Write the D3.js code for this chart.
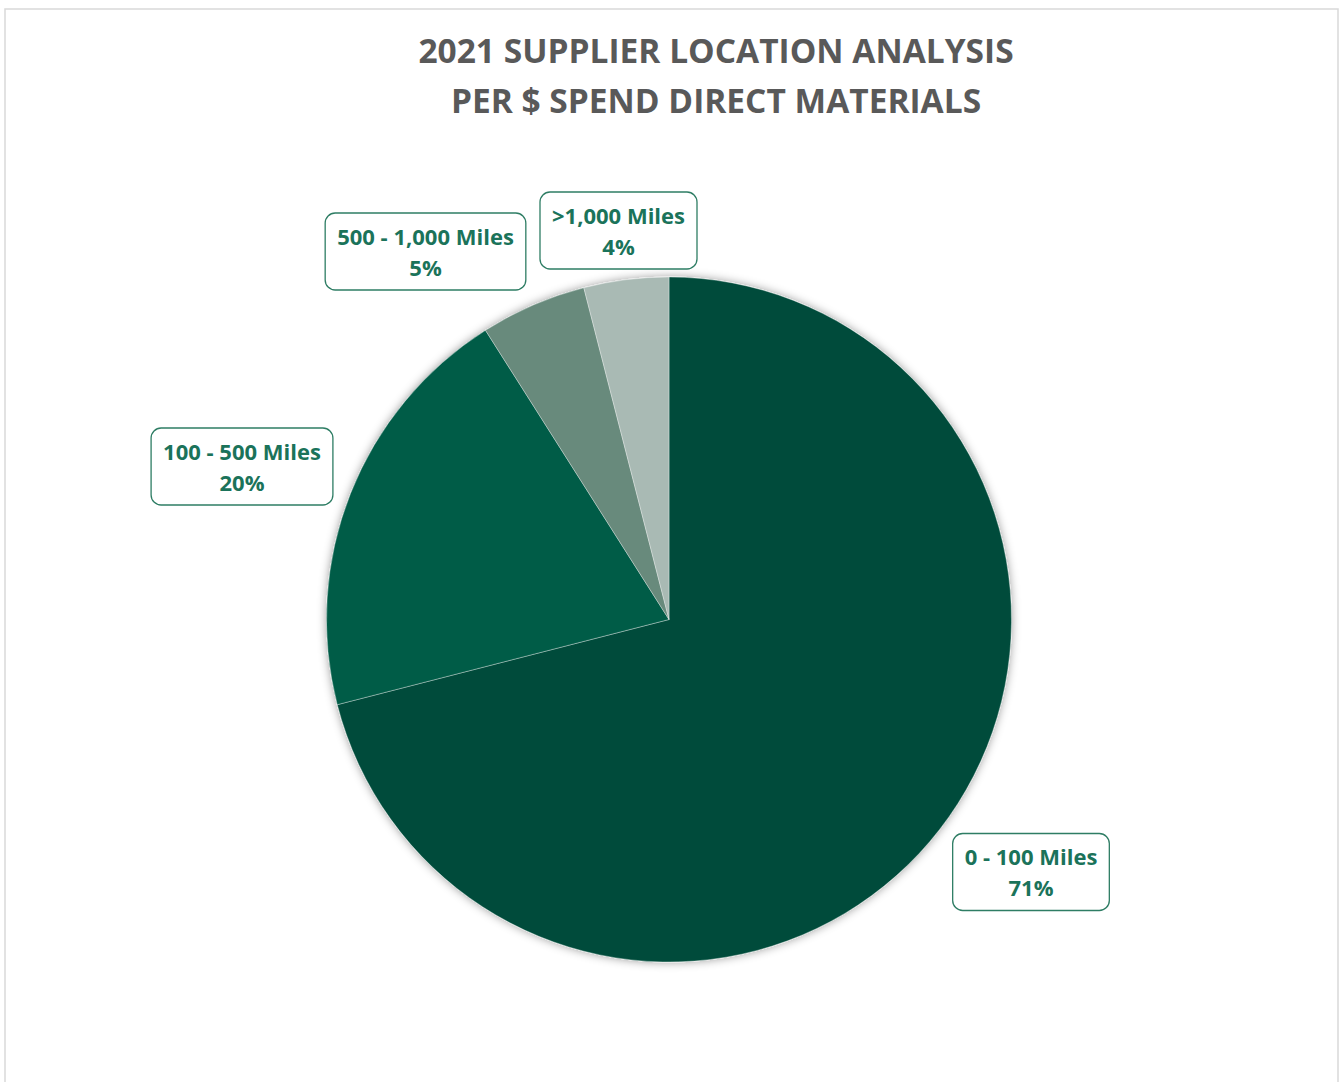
<!DOCTYPE html>
<html>
<head>
<meta charset="utf-8">
<script src="https://cdn.jsdelivr.net/npm/d3@7"></script>
<style>
  html, body { margin: 0; padding: 0; background: #ffffff; }
  svg { display: block; }
</style>
</head>
<body>
<svg id="chart" width="1342" height="1082"></svg>
<script>
// ---- data ----
const categories = ["0 - 100 Miles", "100 - 500 Miles", "500 - 1,000 Miles", ">1,000 Miles"];
const values = [71, 20, 5, 4];
const percentLabels = ["71%", "20%", "5%", "4%"];
const sliceColors = ["#004c3b", "#005b46", "#678a7c", "#a9bab4"];
const titleLines = ["2021 SUPPLIER LOCATION ANALYSIS", "PER $ SPEND DIRECT MATERIALS"];

// ---- layout ----
const W = 1342, H = 1082;
const cx = 669, cy = 619.5, R = 342.5;
const labelCenters = [[1031, 872], [242, 466.5], [425.5, 251.5], [618.5, 230.5]];
const FONT = "'Open Sans', Lato, sans-serif";

const svg = d3.select("#chart");
const defs = svg.append("defs");
const f = defs.append("filter").attr("id", "shadow")
  .attr("x", "-10%").attr("y", "-10%").attr("width", "120%").attr("height", "120%");
f.append("feDropShadow").attr("dx", 0).attr("dy", 0).attr("stdDeviation", 5)
  .attr("flood-color", "#000").attr("flood-opacity", 0.4);

// chart frame
svg.append("rect").attr("x", 5).attr("y", 9).attr("width", 1333).attr("height", 1078)
  .attr("fill", "#ffffff").attr("stroke", "#d9d9d9").attr("stroke-width", 1.5);

// title
const title = svg.append("g").attr("font-family", FONT)
  .attr("font-weight", 700).attr("fill", "#595959").attr("text-anchor", "middle");
titleLines.forEach((t, i) => {
  title.append("text").attr("x", 716).attr("y", 63 + i * 50)
    .attr("font-size", 33.5).text(t);
});

// pie
const pie = d3.pie().sort(null).value(d => d)(values);
const arc = d3.arc().innerRadius(0).outerRadius(R);
const g = svg.append("g").attr("transform", `translate(${cx},${cy})`);
g.append("g").attr("filter", "url(#shadow)")
  .selectAll("path").data(pie).join("path")
  .attr("d", arc)
  .attr("fill", (d, i) => sliceColors[i])
  .attr("stroke", "#ffffff").attr("stroke-opacity", 0.35).attr("stroke-width", 1);

// labels
const lg = svg.append("g").attr("font-family", FONT)
  .attr("font-weight", 700).attr("font-size", 22).attr("text-anchor", "middle");
categories.forEach((c, i) => {
  const [x, y] = labelCenters[i];
  const grp = lg.append("g");
  const box = grp.append("rect");
  const t1 = grp.append("text").attr("x", x).attr("y", y - 7).attr("fill", "#1b735a").text(c);
  const t2 = grp.append("text").attr("x", x).attr("y", y + 24).attr("fill", "#1b735a").text(percentLabels[i]);
  const w = Math.max(t1.node().getComputedTextLength(), t2.node().getComputedTextLength()) + 24;
  box.attr("x", x - w / 2).attr("y", y - 38.5).attr("width", w).attr("height", 77)
    .attr("rx", 10).attr("ry", 10)
    .attr("fill", "#ffffff").attr("stroke", "#2e7d64").attr("stroke-width", 1.3);
});
</script>
</body>
</html>
